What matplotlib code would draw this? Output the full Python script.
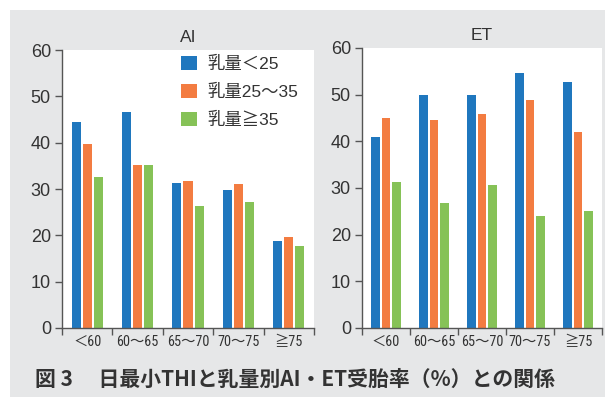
import matplotlib
matplotlib.use('Agg')
import matplotlib.pyplot as plt
from matplotlib import font_manager
from matplotlib.patches import Rectangle
import numpy as np

# data
categories = ['＜60', '60～65', '65～70', '70～75', '≧75']
series_names = ['乳量＜25', '乳量25～35', '乳量≧35']
ai_low = [44.5, 46.6, 31.4, 29.8, 18.7]
ai_mid = [39.7, 35.2, 31.7, 31.0, 19.7]
ai_high = [32.5, 35.1, 26.4, 27.3, 17.6]
et_low = [40.9, 50.0, 50.0, 54.6, 52.7]
et_mid = [44.9, 44.5, 45.8, 48.8, 42.1]
et_high = [31.2, 26.7, 30.6, 24.1, 25.1]
yticks = [0, 10, 20, 30, 40, 50, 60]

colors = ['#1f77be', '#f37c41', '#86c257']
txt = '#333333'

names = {f.name for f in font_manager.fontManager.ttflist}
narrow = [n for n in ['Roboto Condensed', 'Archivo Narrow', 'PT Sans Narrow',
                      'Liberation Sans Narrow', 'Fira Sans Condensed',
                      'IBM Plex Sans Condensed', 'Liberation Sans'] if n in names][:1]
fam = ['Liberation Sans', 'Noto Sans CJK JP', 'DejaVu Sans']
fam_narrow = narrow + ['Noto Sans CJK JP', 'DejaVu Sans']
plt.rcParams['font.family'] = fam

W, H = 605, 399
fig = plt.figure(figsize=(W / 100, H / 100), dpi=100, facecolor='white')
fig.patches.append(Rectangle((10 / W, 2 / H), 1, (H - 12) / H, transform=fig.transFigure,
                             facecolor='#e6e7e8', edgecolor='none', zorder=-10))


def px_axes(x0, x1, ytop, ybot):
    return fig.add_axes([x0 / W, (H - ybot) / H, (x1 - x0) / W, (ybot - ytop) / H])


def draw(ax, title, vals):
    x = np.arange(len(categories))
    bars = []
    for i, v in enumerate(vals):
        b = ax.bar(x + (i - 1) * 0.22, v, width=0.18, color=colors[i], linewidth=0, zorder=2)
        bars.append(b)
    ax.set_xlim(-0.5, len(categories) - 0.5)
    ax.set_ylim(0, 60)
    ax.set_yticks(yticks)
    ax.set_yticklabels([str(t) for t in yticks], fontsize=13, color=txt)
    ax.set_xticks(np.arange(len(categories) + 1) - 0.5)
    ax.set_xticklabels([])
    ax.set_xticks(x, minor=True)
    ax.set_xticklabels(categories, minor=True, fontsize=10.3, color=txt, family=fam_narrow)
    ax.tick_params(axis='x', which='major', length=5, width=1, color='#555555')
    ax.tick_params(axis='x', which='minor', length=0, pad=5)
    ax.tick_params(axis='y', length=5, width=1, color='#555555', pad=3)
    for s in ['top', 'right']:
        ax.spines[s].set_visible(False)
    for s in ['left', 'bottom']:
        ax.spines[s].set_color('#555555')
        ax.spines[s].set_linewidth(1)
    ax.set_title(title, fontsize=12.5, color=txt, pad=6)
    ax.set_facecolor('white')
    return bars


ax1 = px_axes(62, 314, 50, 328)
bars = draw(ax1, 'AI', [ai_low, ai_mid, ai_high])
ax1.legend(bars, series_names, loc='upper right', bbox_to_anchor=(1.0, 1.035), frameon=False,
           fontsize=12.5, handlelength=0.9, handleheight=0.9, handletextpad=0.6,
           labelspacing=0.68, labelcolor=txt)

ax2 = px_axes(362, 602, 48, 328)
draw(ax2, 'ET', [et_low, et_mid, et_high])

fig.text(35 / W, 1 - 379 / H, '図 3　 日最小THIと乳量別AI・ET受胎率（%）との関係',
         fontsize=15, fontweight='bold', color=txt, va='center', ha='left',
         family=['Noto Sans CJK JP', 'DejaVu Sans'])

fig.savefig('out.png', dpi=100, facecolor='white')
